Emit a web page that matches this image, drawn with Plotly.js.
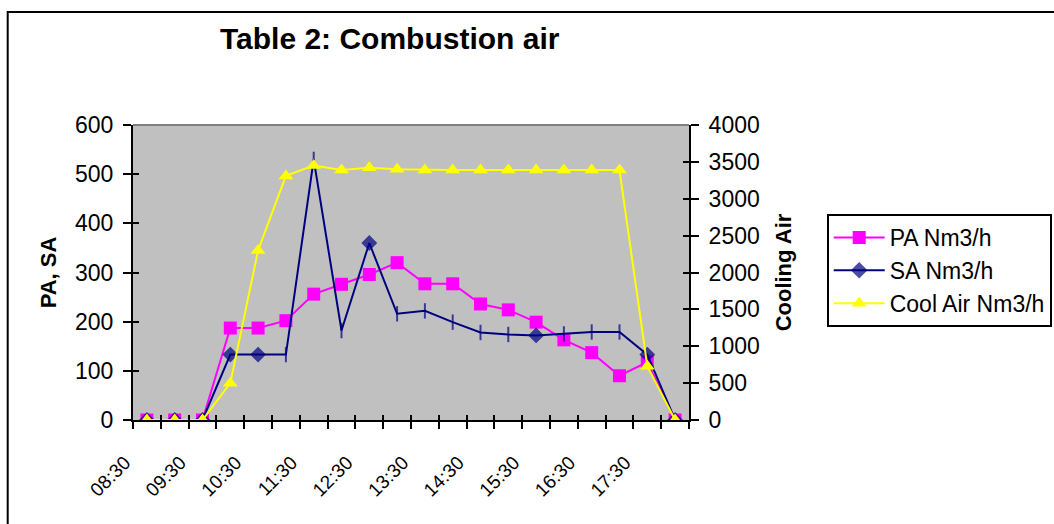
<!DOCTYPE html>
<html>
<head>
<meta charset="utf-8">
<script src="https://cdn.plot.ly/plotly-3.0.1.min.js"></script>
<style>
  html, body { margin: 0; padding: 0; background: #ffffff; }
  #chart { width: 1054px; height: 524px; }
</style>
</head>
<body>
<div id="chart"></div>
<script>
// ---- data ----
const times = ['08:30','09:00','09:30','10:00','10:30','11:00','11:30','12:00','12:30','13:00',
               '13:30','14:00','14:30','15:00','15:30','16:00','16:30','17:00','17:30','18:00'];
const tickLabels = ['08:30','09:30','10:30','11:30','12:30','13:30','14:30','15:30','16:30','17:30'];
const paValues = [0, 0, 0, 187, 187, 202, 256, 276, 296, 320, 277, 277, 236, 224, 199, 163, 137, 90, 118, 0];
const saValues = [0, 0, 0, 133, 133, 133, 530, 182, 360, 216, 222, 199, 178, 174, 172, 175, 179, 179, 133, 0];
const coolValues = [0, 0, 0, 500, 2300, 3310, 3450, 3390, 3420, 3400, 3390, 3390, 3390, 3390, 3390, 3390, 3390, 3390, 730, 0];
const saDiamondIdx = [0, 1, 2, 3, 4, 8, 14, 18, 19];
const seriesNames = ['PA Nm3/h', 'SA Nm3/h', 'Cool Air Nm3/h'];
const chartTitle = 'Table 2: Combustion air';
const leftTitle = 'PA, SA';
const rightTitle = 'Cooling Air';

const FONT = 'Arial, "Liberation Sans", sans-serif';
const boundaries = times.map((t, i) => i - 0.5).concat([times.length - 0.5]);
const saSymbols = saValues.map((v, i) => saDiamondIdx.includes(i) ? 'diamond' : 'line-ns-open');
const saSizes = saSymbols.map(s => s === 'diamond' ? 10 : 11);

const traces = [
  { x: times, y: paValues, name: seriesNames[0], type: 'scatter', mode: 'lines+markers', legendgroup: 'a',
    line: { color: '#FF00FF', width: 2 }, marker: { symbol: 'square', size: 13, color: '#FF00FF' },
    xaxis: 'x', yaxis: 'y' },
  { x: times, y: saValues, name: seriesNames[1], type: 'scatter', mode: 'lines+markers', legendgroup: 'b',
    line: { color: '#000080', width: 2 },
    marker: { symbol: saSymbols, size: saSizes, color: '#000080', line: { color: '#000080', width: 2 } },
    xaxis: 'x', yaxis: 'y' },
  { x: times, y: coolValues, name: seriesNames[2], type: 'scatter', mode: 'lines+markers', legendgroup: 'c',
    line: { color: '#FFFF00', width: 2 }, marker: { symbol: 'triangle-up', size: 13, color: '#FFFF00' },
    xaxis: 'x', yaxis: 'y2' },
  // helper (empty) traces so the tick-only overlay axes exist
  { x: [], y: [], xaxis: 'x2', yaxis: 'y3', showlegend: false, hoverinfo: 'skip', type: 'scatter' },
  { x: [], y: [], xaxis: 'x3', yaxis: 'y4', showlegend: false, hoverinfo: 'skip', type: 'scatter' }
];

const pw = 556, ph = 295, pl = 133.3, pt = 125;
const layout = {
  width: 1054, height: 524,
  margin: { l: pl, r: 1054 - pl - pw, t: pt, b: 524 - pt - ph, pad: 0, autoexpand: false },
  paper_bgcolor: '#FFFFFF', plot_bgcolor: '#C0C0C0',
  font: { family: FONT, size: 23, color: '#000000' },
  showlegend: true,
  title: { text: '<b>' + chartTitle + '</b>', font: { family: FONT, size: 30, color: '#000' },
           x: (390 - pl) / pw, xref: 'paper', xanchor: 'center', automargin: false,
           y: 1 - 38 / 524, yref: 'container', yanchor: 'middle' },
  xaxis: { type: 'category', range: [-0.5, times.length - 0.5], showgrid: false, zeroline: false,
           automargin: false, showline: true, linecolor: '#000', linewidth: 2,
           tickmode: 'array', tickvals: tickLabels, ticktext: tickLabels,
           ticks: '', tickangle: -45, ticklabelstandoff: 22, ticklabelshift: -22,
           tickfont: { family: FONT, size: 19, color: '#000' } },
  xaxis2: { overlaying: 'x', anchor: 'y', range: [-0.5, times.length - 0.5], showgrid: false, zeroline: false,
            automargin: false, showline: false, tickmode: 'array', tickvals: boundaries, ticks: 'outside', ticklen: 8,
            tickwidth: 2, tickcolor: '#000', showticklabels: false },
  xaxis3: { overlaying: 'x', anchor: 'y', range: [-0.5, times.length - 0.5], showgrid: false, zeroline: false,
            automargin: false, showline: false, tickmode: 'array', tickvals: boundaries, ticks: 'inside', ticklen: 5,
            tickwidth: 2, tickcolor: '#000', showticklabels: false },
  yaxis: { range: [0, 600], dtick: 100, tick0: 0, showgrid: false, zeroline: false, automargin: false,
           showline: true, linecolor: '#000', linewidth: 2, ticks: 'outside', ticklen: 8, tickwidth: 2,
           tickcolor: '#000', ticklabelstandoff: 5, tickfont: { family: FONT, size: 23 },
           title: { text: '<b>' + leftTitle + '</b>', font: { family: FONT, size: 22 }, standoff: 12 } },
  yaxis2: { overlaying: 'y', side: 'right', anchor: 'x', range: [0, 4000], dtick: 500, tick0: 0,
            showgrid: false, zeroline: false, showline: true, linecolor: '#000', linewidth: 2, automargin: false,
            ticks: 'outside', ticklen: 8, tickwidth: 2, tickcolor: '#000', ticklabelstandoff: 5,
            tickfont: { family: FONT, size: 23 },
            title: { text: '<b>' + rightTitle + '</b>', font: { family: FONT, size: 22 }, standoff: 17 } },
  yaxis3: { overlaying: 'y', side: 'left', anchor: 'x', range: [0, 600], dtick: 100, tick0: 0, automargin: false,
            showgrid: false, zeroline: false, showline: false, ticks: 'inside', ticklen: 6, tickwidth: 2,
            tickcolor: '#000', showticklabels: false },
  yaxis4: { overlaying: 'y', side: 'right', anchor: 'x', range: [0, 4000], dtick: 500, tick0: 0, automargin: false,
            showgrid: false, zeroline: false, showline: false, ticks: 'inside', ticklen: 6, tickwidth: 2,
            tickcolor: '#000', showticklabels: false },
  legend: { x: (827 - pl) / pw, xanchor: 'left', y: (pt + ph - 214) / ph, yanchor: 'top',
            bgcolor: '#FFFFFF', bordercolor: '#000', borderwidth: 2, tracegroupgap: 5,
            font: { family: FONT, size: 23, color: '#000' }, traceorder: 'normal', itemwidth: 51 },
  shapes: [
    { type: 'line', xref: 'paper', yref: 'paper', x0: 0, x1: 1, y0: 1, y1: 1,
      line: { color: '#808080', width: 2 } },
    { type: 'rect', xref: 'paper', yref: 'paper', x0: (8 - pl) / pw, x1: 2, y0: -2, y1: (pt + ph - 12) / ph,
      line: { color: '#000', width: 2 }, fillcolor: 'rgba(0,0,0,0)' }
  ]
};

Plotly.newPlot('chart', traces, layout, { displayModeBar: false, staticPlot: true });
</script>
</body>
</html>
